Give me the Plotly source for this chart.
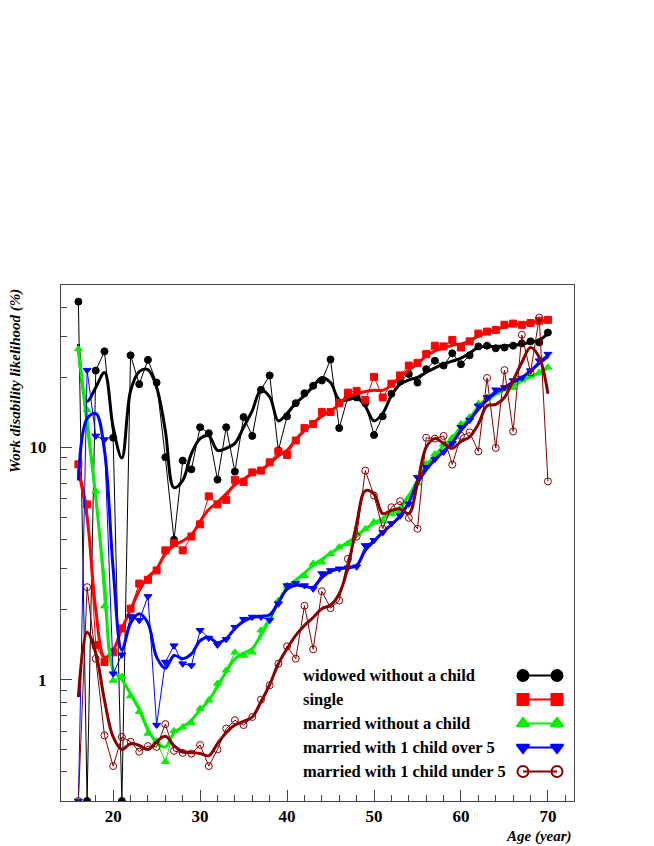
import plotly.graph_objects as go

ages = list(range(16, 71))

# raw yearly values (%), 0 = no case (drawn on the axis floor like ROOT does)
widowed = [42.4, 0, 21.4, 25.9, 11.0, 0, 24.9, 18.7, 23.8, 19.0, 9.06, 4.0, 8.77, 8.04,
           12.2, 11.5, 7.26, 12.2, 7.86, 13.5, 11.2, 17.7, 20.4, 9.68, 13.6, 15.5, 17.1,
           18.4, 19.4, 23.9, 12.1, 16.5, 16.4, 15.5, 11.3, 13.6, 17.0, 19.2, 20.7, 19.0,
           21.7, 23.6, 22.5, 25.4, 22.8, 24.9, 27.2, 27.4, 26.7, 26.9, 27.4, 28.0, 28.6,
           28.3, 31.2]
single = [8.45, 5.68, 1.41, 1.19, 1.31, 1.66, 2.02, 2.59, 2.69, 2.95, 3.6, 3.87, 3.6, 4.13,
          4.66, 6.15, 5.68, 5.94, 7.25, 7.1, 7.8, 7.94, 8.62, 9.6, 9.27, 10.7, 12.1, 12.6,
          14.2, 14.2, 15.5, 17.2, 17.5, 16.0, 20.1, 16.4, 18.8, 20.4, 22.5, 23.1, 25.2,
          27.4, 27.2, 29.0, 26.9, 28.6, 30.9, 31.5, 32.0, 33.7, 34.1, 33.7, 34.3, 35.1, 35.4]
married = [26.5, 14.5, 6.47, 2.07, 0.99, 1.03, 0.85, 0.726, 0.586, 0.543, 0.443, 0.601,
           0.625, 0.65, 0.75, 0.815, 0.962, 1.096, 1.31, 1.27, 1.31, 1.63, 1.86, 2.19, 2.54,
           2.6, 2.8, 3.16, 3.2, 3.48, 3.72, 3.85, 4.25, 4.45, 4.77, 4.8, 5.18, 5.3, 6.1, 7.0,
           8.5, 9.36, 10.3, 11.0, 12.6, 13.5, 15.4, 16.4, 17.2, 17.8, 18.1, 19.5, 20.3,
           21.0, 22.1]
child_over5 = [0, 21.5, 11.2, 10.8, 1.06, 1.28, 1.87, 1.8, 2.28, 0.637, 1.19, 1.40, 1.17,
               1.15, 1.63, 1.51, 1.41, 1.49, 1.68, 1.82, 1.86, 1.86, 1.8, 2.12, 2.54, 2.6,
               2.54, 2.46, 2.86, 2.95, 3.0, 3.03, 3.06, 3.78, 3.98, 4.3, 4.7, 5.08, 5.71,
               7.43, 8.2, 8.9, 9.55, 10.4, 12.2, 13.1, 15.1, 16.4, 17.7, 18.1, 19.4, 19.9,
               21.4, 23.6, 25.2]
child_under5 = [0, 2.5, 1.23, 0.575, 0.424, 0.566, 0.54, 0.489, 0.517, 0.513, 0.643, 0.493,
                0.483, 0.48, 0.523, 0.424, 0.5, 0.615, 0.668, 0.637, 0.69, 0.82, 0.945,
                1.17, 1.39, 1.23, 2.08, 1.35, 2.4, 2.03, 2.19, 3.31, 4.13, 7.94, 6.2, 4.46,
                5.52, 5.86, 4.97, 4.46, 11.0, 10.9, 11.2, 8.43, 11.2, 11.6, 9.6, 19.9, 9.94,
                21.5, 11.7, 30.5, 21.0, 36.2, 7.13]

# smoothed curves
widowed_s = [27.8, 15.8, 18.1, 21.0, 12.2, 9.0, 17.5, 21.2, 21.6, 18.1, 11.8, 6.7, 7.2, 9.4,
             10.9, 11.2, 9.7, 9.9, 10.4, 12.2, 14.4, 17.6, 16.5, 13.0, 14.0, 15.5, 16.7,
             18.3, 20.0, 19.0, 16.0, 16.0, 16.4, 15.0, 13.0, 14.0, 16.7, 18.7, 19.5, 20.0,
             21.0, 22.0, 22.8, 23.5, 24.2, 25.5, 26.9, 27.2, 27.2, 27.3, 27.5, 27.8, 28.3,
             29.0, 30.9]
single_s = [8.0, 5.0, 2.0, 1.25, 1.34, 1.66, 1.99, 2.42, 2.76, 3.0, 3.48, 3.78, 3.95, 4.2,
            4.8, 5.4, 5.8, 6.3, 6.9, 7.3, 7.7, 8.0, 8.5, 9.2, 9.7, 10.8, 11.8, 12.7, 13.6,
            14.3, 15.3, 16.5, 17.0, 17.4, 17.6, 17.6, 18.5, 20.0, 21.5, 22.9, 24.7, 26.0,
            26.8, 27.5, 27.9, 28.7, 30.2, 31.3, 32.1, 33.0, 33.7, 34.0, 34.4, 34.9, 35.3]
married_s = [26.0, 12.6, 6.1, 2.6, 1.1, 1.0, 0.87, 0.75, 0.61, 0.535, 0.513, 0.59, 0.625,
             0.67, 0.74, 0.815, 0.93, 1.08, 1.23, 1.3, 1.36, 1.55, 1.82, 2.15, 2.5, 2.68,
             2.88, 3.1, 3.3, 3.5, 3.7, 3.9, 4.15, 4.45, 4.7, 4.95, 5.2, 5.55, 6.2, 7.2, 8.3,
             9.2, 10.1, 11.0, 12.2, 13.4, 14.7, 15.9, 16.9, 17.7, 18.4, 19.3, 20.1, 20.9, 22.0]
child_over5_s = [7.2, 13.3, 14.0, 9.7, 3.0, 1.34, 1.75, 1.92, 1.75, 1.25, 1.12, 1.27, 1.23,
                 1.29, 1.47, 1.52, 1.44, 1.5, 1.66, 1.78, 1.85, 1.87, 1.9, 2.15, 2.45, 2.55,
                 2.52, 2.5, 2.75, 2.92, 3.0, 3.03, 3.1, 3.6, 3.95, 4.3, 4.65, 5.05, 5.8, 7.0,
                 8.0, 8.85, 9.6, 10.5, 11.8, 13.1, 14.6, 16.0, 17.2, 18.1, 19.1, 20.0, 21.3,
                 23.0, 24.6]
child_under5_s = [0.84, 1.6, 1.3, 0.815, 0.566, 0.5, 0.53, 0.52, 0.5, 0.54, 0.57, 0.52,
                  0.49, 0.485, 0.48, 0.47, 0.53, 0.59, 0.637, 0.66, 0.69, 0.8, 0.95, 1.17,
                  1.36, 1.55, 1.71, 1.85, 2.02, 2.09, 2.34, 3.05, 4.7, 6.5, 6.3, 5.18, 5.35,
                  5.43, 5.18, 7.0, 10.0, 10.9, 10.4, 9.9, 10.6, 11.1, 12.6, 15.1, 15.3, 16.4,
                  19.4, 23.2, 26.9, 24.4, 17.0]

names = ["widowed without a child", "single", "married without a child",
         "married with 1 child over 5", "married with 1 child under 5"]
raws = [widowed, single, married, child_over5, child_under5]
smooths = [widowed_s, single_s, married_s, child_over5_s, child_under5_s]
colors = ["#000000", "#ff0000", "#00ee00", "#0000ff", "#880000"]
symbols = ["circle", "square", "triangle-up", "triangle-down", "circle-open"]

YMIN, YMAX = 0.3, 50
FONT = "Liberation Serif, Times New Roman, serif"

# frame as seen on the page; the page body adds an 8px offset
W, H = 654, 846
OFF = 8
L, R, T, B = 61, 574, 285, 801

fig = go.Figure()

for name, raw, sm, col, sym in zip(names, raws, smooths, colors, symbols):
    y = [v if v > 0 else YMIN for v in raw]
    fig.add_trace(go.Scatter(x=ages, y=y, mode="lines+markers", showlegend=False,
                             line=dict(color=col, width=1),
                             marker=dict(symbol=sym, size=7, color=col,
                                         line=dict(color=col, width=1))))
    fig.add_trace(go.Scatter(x=ages, y=sm, mode="lines", showlegend=False,
                             line=dict(color=col, width=3, shape="spline", smoothing=1)))

# legend drawn by hand: text on the left, symbol on the right (ROOT style)
pw, ph = R - L, B - T
for i, (name, col, sym) in enumerate(zip(names, colors, symbols)):
    yc = 675.5 + 24 * i
    yp = (B - yc) / ph
    fig.add_annotation(text=name, xref="paper", yref="paper", x=(301 - L) / pw, y=yp,
                       xanchor="left", yanchor="middle", showarrow=False,
                       font=dict(family=FONT, size=16.5, color="black", weight="bold"))
    fig.add_trace(go.Scatter(x=[(523 - L) / pw, (557 - L) / pw], y=[yp, yp],
                             xaxis="x2", yaxis="y2", mode="lines+markers", showlegend=False,
                             line=dict(color=col, width=2),
                             marker=dict(symbol=sym, size=11, color=col,
                                         line=dict(color=col, width=2))))

fig.add_annotation(text="<i>Work disability likelihood (%)</i>", xref="paper", yref="paper",
                   x=(15 - L) / pw, y=(B - 288) / ph, xanchor="center", yanchor="top",
                   textangle=-90, showarrow=False, borderpad=0,
                   font=dict(family=FONT, size=15, color="black", weight="bold"))
fig.add_annotation(text="<i>Age (year)</i>", xref="paper", yref="paper",
                   x=1.0, y=(B - 836) / ph, xanchor="right", yanchor="middle",
                   showarrow=False,
                   font=dict(family=FONT, size=15, color="black", weight="bold"))

axis_common = dict(showline=True, linecolor="#444", linewidth=1, mirror=True,
                   showgrid=False, zeroline=False, ticks="inside", ticklen=11,
                   tickcolor="#444", tickwidth=1,
                   tickfont=dict(family=FONT, size=17, color="black", weight="bold"))

fig.update_layout(
    width=W, height=H,
    margin=dict(l=L - OFF, r=W - R + OFF, t=T - OFF, b=H - B + OFF),
    paper_bgcolor="white", plot_bgcolor="white",
    xaxis=dict(range=[14, 73], tickvals=[20, 30, 40, 50, 60, 70],
               minor=dict(tickvals=list(range(16, 73, 2)), ticks="inside", ticklen=6,
                          tickcolor="#444"),
               **axis_common),
    yaxis=dict(type="log", range=[-0.5229, 1.699], tickvals=[1, 10], ticktext=["1", "10"],
               ticklabelstandoff=10,
               minor=dict(tickvals=[0.3, 0.4, 0.5, 0.6, 0.7, 0.8, 0.9, 2, 3, 4, 5, 6, 7, 8,
                                    9, 20, 30, 40, 50],
                          ticks="inside", ticklen=6, tickcolor="#444"),
               **axis_common),
    xaxis2=dict(overlaying="x", range=[0, 1], visible=False),
    yaxis2=dict(overlaying="y", range=[0, 1], visible=False),
)

fig.write_html("out.html")
